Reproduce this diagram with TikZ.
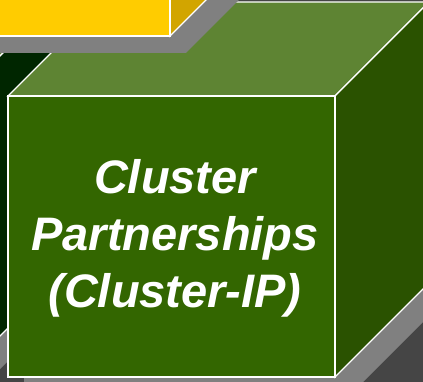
\documentclass[tikz,border=0pt]{standalone}
\usepackage{fontspec}
\setmainfont{Liberation Sans}
\usetikzlibrary{positioning}
\definecolor{cubefront}{HTML}{336600}
\definecolor{cubetop}{HTML}{5E8433}
\definecolor{cubeside}{HTML}{2A5200}
\definecolor{leftside}{HTML}{002600}
\definecolor{goldfront}{HTML}{FFCC00}
\definecolor{goldside}{HTML}{D2A500}
\definecolor{shadowgray}{HTML}{808080}
\definecolor{backgray}{HTML}{454545}

\begin{document}
\begin{tikzpicture}[x=1pt, y=-1pt,
  face/.style={draw=white, line width=1.4pt, line join=miter},
  castshadow/.style={fill=shadowgray},
  cubetext/.style={text=white, inner sep=0pt, align=center,
    font=\bfseries\itshape\fontsize{47}{57}\selectfont}
]
\useasboundingbox (0,0) rectangle (423,382);
\clip (0,0) rectangle (423,382);
\fill[backgray] (0,0) rectangle (423,382);

% cube on the left, almost hidden
\fill[castshadow] (-200,-100) -- (90,-100) -- (90,279) -- (-4,373) -- (-200,373) -- cycle;
\filldraw[face, fill=cubetop] (-20,76) -- (74,-18) -- (-200,-18) -- (-200,76) -- cycle;
\filldraw[face, fill=leftside] (-20,76) -- (74,-18) -- (74,262) -- (-20,356) -- cycle;

% green cube
\fill[castshadow] (24,394) -- (351,394) -- (445,300) -- (445,19) -- (118,19) -- (24,113) -- cycle;
\filldraw[face, fill=cubetop] (8,96) -- (335,96) -- (429,2) -- (102,2) -- cycle;
\filldraw[face, fill=cubeside] (335,96) -- (429,2) -- (429,283) -- (335,377) -- cycle;
\filldraw[face, fill=cubefront] (8,96) rectangle (335,377);

% yellow cube at the top
\fill[castshadow] (-200,53) -- (186,53) -- (280,-41) -- (280,-300) -- (-200,-300) -- cycle;
\filldraw[face, fill=goldside] (170,36) -- (264,-58) -- (264,-300) -- (170,-206) -- cycle;
\filldraw[face, fill=goldfront] (-200,-200) rectangle (170,36);

\node[cubetext] (title) at (175,238.5) {Cluster\\Partnerships\\(Cluster-IP)};
\end{tikzpicture}
\end{document}
